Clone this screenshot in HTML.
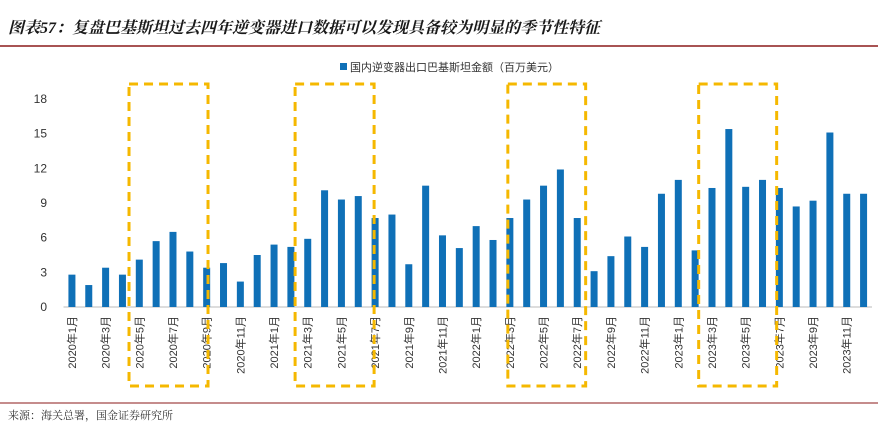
<!DOCTYPE html>
<html><head><meta charset="utf-8"><style>
body{margin:0;background:#fff;width:878px;height:426px;overflow:hidden;font-family:"Liberation Sans","Noto Sans CJK SC",sans-serif}
</style></head><body>
<svg id="c" width="878" height="426" xmlns="http://www.w3.org/2000/svg">
<text x="8" y="33" font-size="16" font-weight="bold" font-style="italic" fill="#1a1a1a" font-family="Liberation Serif,Noto Serif CJK SC,serif">图表57：复盘巴基斯坦过去四年逆变器进口数据可以发现具备较为明显的季节性特征</text>
<line x1="0" y1="46" x2="878" y2="46" stroke="#8b1a1a" stroke-width="1.5"/>
<line x1="0" y1="403" x2="878" y2="403" stroke="#8b1a1a" stroke-width="1"/>
<text x="8" y="419" font-size="11" fill="#333" font-family="Liberation Serif,Noto Serif CJK SC,serif">来源：海关总署，国金证券研究所</text>
<rect x="340" y="63" width="7" height="7" fill="#0f70b7"/>
<text x="350" y="71" font-size="11" fill="#333">国内逆变器出口巴基斯坦金额（百万美元）</text>
<g id="g"></g>
</svg>
<script>
const categories=[];for(let y=2020;y<=2023;y++)for(let m=1;m<=12;m++)categories.push(y+'年'+m+'月');
const values=[2.8,1.9,3.4,2.8,4.1,5.7,6.5,4.8,3.4,3.8,2.2,4.5,5.4,5.2,5.9,10.1,9.3,9.6,7.7,8.0,3.7,10.5,6.2,5.1,7.0,5.8,7.7,9.3,10.5,11.9,7.7,3.1,4.4,6.1,5.2,9.8,11.0,4.9,10.3,15.4,10.4,11.0,10.3,8.7,9.2,15.1,9.8,9.8];
const yTicks=[0,3,6,9,12,15,18];
const boxRanges=[[3.39,8.08],[13.25,17.94],[25.88,30.5],[37.21,41.84]];
const NS='http://www.w3.org/2000/svg',g=document.getElementById('g');
const x0=63.5,x1=872,y0=307,yT=99,step=(x1-x0)/48;
const ys=v=>y0-(v/18)*(y0-yT), xc=i=>x0+step*(i+0.5);
function mk(t,a,txt){const e=document.createElementNS(NS,t);for(const k in a)e.setAttribute(k,a[k]);if(txt!=null)e.textContent=txt;g.appendChild(e);return e;}
yTicks.forEach(t=>{const e=mk('text',{x:47,y:ys(t)+4,'font-size':12,fill:'#333','text-anchor':'end'},t);

});
const ax=mk('line',{x1:x0,y1:y0,x2:x1,y2:y0,stroke:'#bbb'});


values.forEach((v,i)=>{const r=mk('rect',{x:xc(i)-3.5,y:ys(v),width:7,height:y0-ys(v),fill:'#0f70b7'});


if(i%2===0){const x=xc(i)+4,y=316;const t=mk('text',{x:x,y:y,'font-size':11,fill:'#333','text-anchor':'end',transform:'rotate(-90 '+x+' '+y+')'},categories[i]);

}});
boxRanges.forEach(b=>{const l=xc(b[0]),r=xc(b[1]);const e=mk('rect',{x:l,y:84,width:r-l,height:302,fill:'none',stroke:'#f5b800','stroke-width':3,'stroke-dasharray':'9 6'});

});
</script>
</body></html>
